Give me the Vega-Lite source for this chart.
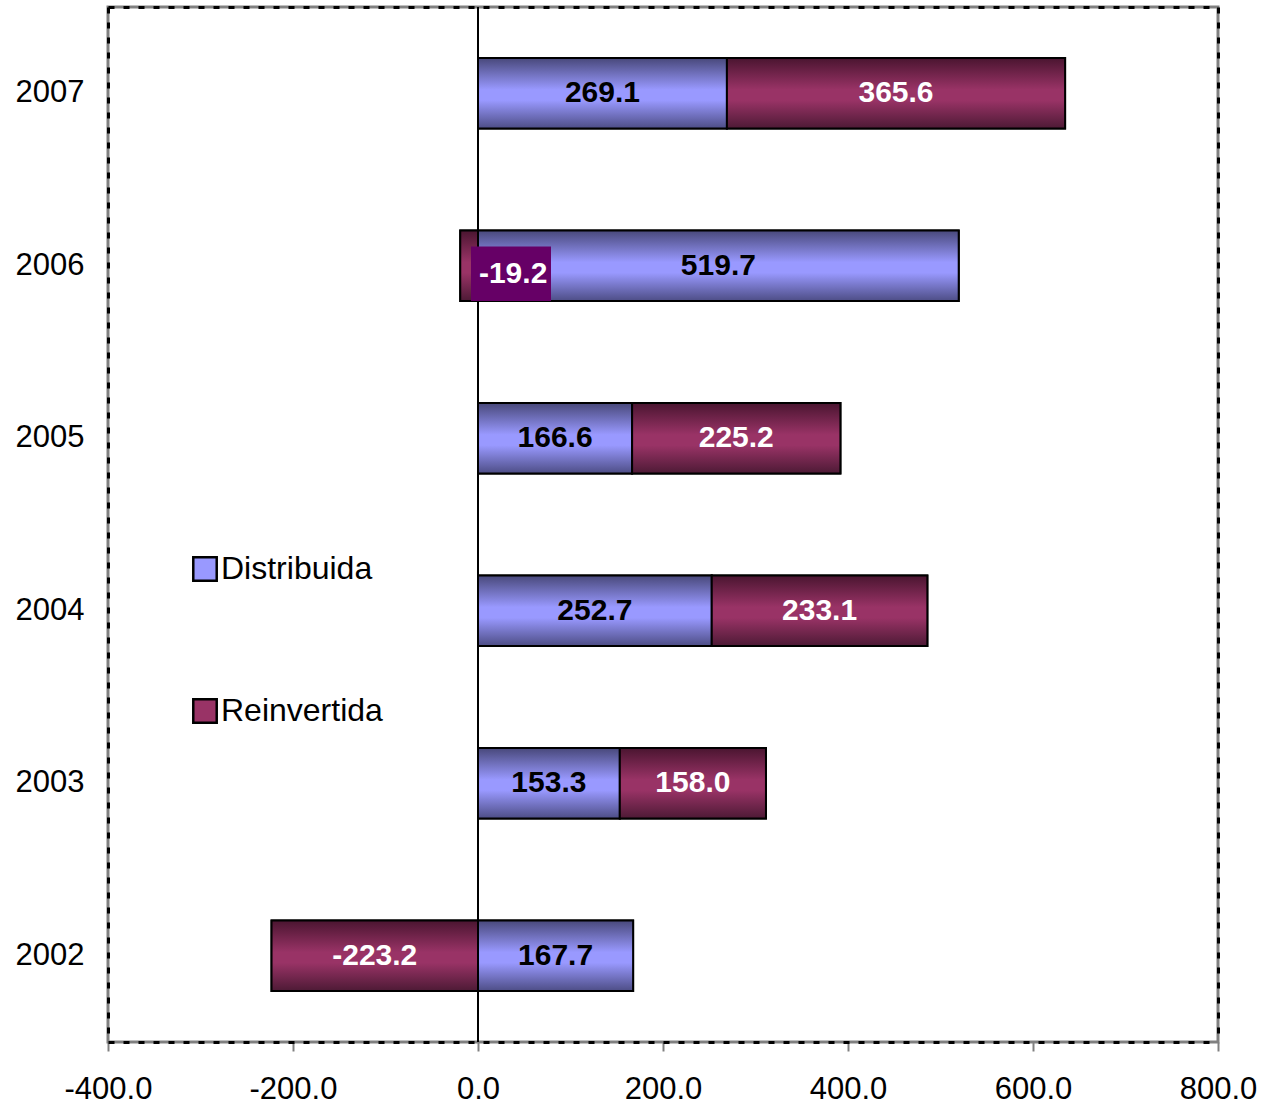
{
  "$schema": "https://vega.github.io/schema/vega-lite/v6.json",
  "width": 1110,
  "height": 1035,
  "autosize": "none",
  "padding": {"left": 108, "top": 7, "right": 55, "bottom": 65},
  "background": "white",
  "config": {
    "font": "Liberation Sans",
    "view": {"stroke": "#808080", "strokeWidth": 3},
    "locale": {"number": {"decimal": ".", "thousands": ",", "grouping": [3], "currency": ["$", ""], "minus": "-"}}
  },
  "data": {
    "values": [
      {"year": 2007, "series": "Distribuida", "value": 269.1},
      {"year": 2007, "series": "Reinvertida", "value": 365.6},
      {"year": 2006, "series": "Distribuida", "value": 519.7},
      {"year": 2006, "series": "Reinvertida", "value": -19.2},
      {"year": 2005, "series": "Distribuida", "value": 166.6},
      {"year": 2005, "series": "Reinvertida", "value": 225.2},
      {"year": 2004, "series": "Distribuida", "value": 252.7},
      {"year": 2004, "series": "Reinvertida", "value": 233.1},
      {"year": 2003, "series": "Distribuida", "value": 153.3},
      {"year": 2003, "series": "Reinvertida", "value": 158.0},
      {"year": 2002, "series": "Distribuida", "value": 167.7},
      {"year": 2002, "series": "Reinvertida", "value": -223.2}
    ]
  },
  "transform": [
    {"stack": "value", "groupby": ["year"], "sort": [{"field": "series", "order": "ascending"}], "as": ["v0", "v1"]},
    {"calculate": "(datum.v0 + datum.v1) / 2", "as": "mid"}
  ],
  "layer": [
    {
      "mark": {"type": "bar", "stroke": "black", "strokeWidth": 2},
      "encoding": {
        "x": {
          "field": "v0", "type": "quantitative",
          "scale": {"domain": [-400, 800], "nice": false, "zero": false},
          "axis": {
            "orient": "bottom", "values": [-400, -200, 0, 200, 400, 600, 800], "format": ".1f",
            "labelFontSize": 31, "labelColor": "black", "labelPadding": 23, "labelFlush": false,
            "tickColor": "#808080", "tickSize": 9, "tickWidth": 2,
            "domainColor": "black", "domainWidth": 3, "domainDash": [6, 9],
            "grid": false, "title": null
          }
        },
        "x2": {"field": "v1"},
        "y": {
          "field": "year", "type": "ordinal", "sort": "descending",
          "scale": {"paddingInner": 0.59, "paddingOuter": 0.295},
          "axis": {
            "orient": "left", "title": null, "ticks": false,
            "domainColor": "black", "domainWidth": 3, "domainDash": [6, 9],
            "labelFontSize": 31, "labelPadding": 24, "labelColor": "black"
          }
        },
        "color": {
          "field": "series", "type": "nominal",
          "scale": {"domain": ["Distribuida", "Reinvertida"], "range": ["#9999ff", "#993366"]},
          "legend": {
            "orient": "none", "legendX": 81, "legendY": 546, "title": null,
            "labelFontSize": 32, "labelColor": "black", "labelOffset": 0, "labelLimit": 0,
            "symbolType": "square", "symbolSize": 550, "symbolStrokeColor": "black",
            "symbolStrokeWidth": 2.5, "symbolOpacity": 1, "rowPadding": 108
          }
        }
      }
    },
    {
      "transform": [{"filter": "datum.series === 'Distribuida'"}],
      "mark": {
        "type": "bar", "stroke": "black", "strokeWidth": 2,
        "fill": {"gradient": "linear", "x1": 0, "y1": 0, "x2": 0, "y2": 1,
          "stops": [
            {"offset": 0, "color": "#48487a"},
            {"offset": 0.45, "color": "#9999ff"},
            {"offset": 0.6, "color": "#9999ff"},
            {"offset": 1, "color": "#4d4d85"}
          ]}
      },
      "encoding": {
        "x": {
          "field": "v0", "type": "quantitative",
          "axis": {"orient": "top", "labels": false, "ticks": false, "grid": false, "title": null,
            "domainColor": "black", "domainWidth": 3, "domainDash": [6, 9]}
        },
        "x2": {"field": "v1"},
        "y": {
          "field": "year", "type": "ordinal", "sort": "descending",
          "axis": {"orient": "right", "labels": false, "ticks": false, "title": null,
            "domainColor": "black", "domainWidth": 3, "domainDash": [6, 9]}
        }
      }
    },
    {
      "transform": [{"filter": "datum.series === 'Reinvertida'"}],
      "mark": {
        "type": "bar", "stroke": "black", "strokeWidth": 2,
        "fill": {"gradient": "linear", "x1": 0, "y1": 0, "x2": 0, "y2": 1,
          "stops": [
            {"offset": 0, "color": "#4a1530"},
            {"offset": 0.45, "color": "#993366"},
            {"offset": 0.6, "color": "#993366"},
            {"offset": 1, "color": "#4d1a35"}
          ]}
      },
      "encoding": {
        "x": {"field": "v0", "type": "quantitative", "axis": null},
        "x2": {"field": "v1"},
        "y": {"field": "year", "type": "ordinal", "sort": "descending", "axis": null}
      }
    },
    {
      "mark": {"type": "rule", "color": "black", "strokeWidth": 2},
      "encoding": {
        "x": {"datum": 0, "type": "quantitative", "axis": null}
      }
    },
    {
      "transform": [{"filter": "datum.series === 'Reinvertida' && datum.year === 2006"}],
      "mark": {"type": "bar", "color": "#660066", "xOffset": -7, "x2Offset": 73, "height": {"band": 0.77}, "yOffset": 8},
      "encoding": {
        "x": {"field": "v0", "type": "quantitative", "axis": null},
        "x2": {"field": "v0"},
        "y": {"field": "year", "type": "ordinal", "sort": "descending", "axis": null}
      }
    },
    {
      "transform": [{"filter": "datum.series === 'Distribuida'"}],
      "mark": {"type": "text", "fontWeight": "bold", "fontSize": 30, "color": "black", "align": "center", "baseline": "middle"},
      "encoding": {
        "x": {"field": "mid", "type": "quantitative", "axis": null},
        "y": {"field": "year", "type": "ordinal", "sort": "descending", "axis": null},
        "text": {"field": "value", "type": "quantitative", "format": ".1f"}
      }
    },
    {
      "transform": [{"filter": "datum.series === 'Reinvertida' && datum.year !== 2006"}],
      "mark": {"type": "text", "fontWeight": "bold", "fontSize": 30, "color": "white", "align": "center", "baseline": "middle"},
      "encoding": {
        "x": {"field": "mid", "type": "quantitative", "axis": null},
        "y": {"field": "year", "type": "ordinal", "sort": "descending", "axis": null},
        "text": {"field": "value", "type": "quantitative", "format": ".1f"}
      }
    },
    {
      "transform": [{"filter": "datum.series === 'Reinvertida' && datum.year === 2006"}],
      "mark": {"type": "text", "fontWeight": "bold", "fontSize": 30, "color": "white", "align": "center", "baseline": "middle", "dx": 44, "dy": 8},
      "encoding": {
        "x": {"field": "mid", "type": "quantitative", "axis": null},
        "y": {"field": "year", "type": "ordinal", "sort": "descending", "axis": null},
        "text": {"field": "value", "type": "quantitative", "format": ".1f"}
      }
    }
  ],
  "resolve": {"axis": {"x": "independent", "y": "independent"}}
}
